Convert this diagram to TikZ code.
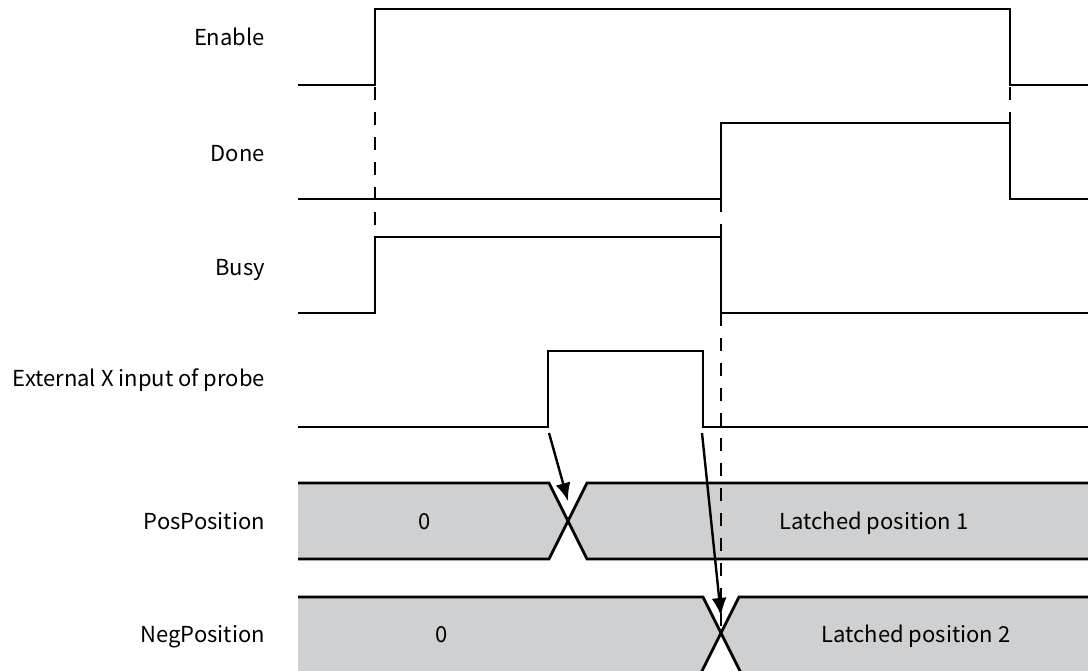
\documentclass[tikz,border=0pt]{standalone}
\usepackage{fontspec}
\setmainfont{Noto Sans CJK SC}
\usetikzlibrary{arrows.meta}
\definecolor{busgray}{HTML}{CFD0D2}
\tikzset{
  sig/.style={line width=2.6pt, line join=miter},
  busline/.style={line width=2.8pt},
  guide/.style={line width=2pt, dash pattern=on 13pt off 12pt},
  lbl/.style={anchor=base east, inner sep=0pt, font=\fontsize{22}{26}\selectfont},
  bustxt/.style={anchor=base, inner sep=0pt, font=\fontsize{22}{26}\selectfont},
  cause/.style={line width=2.4pt, -{Latex[length=18pt,width=15pt]}}
}
\begin{document}
\begin{tikzpicture}[x=1pt,y=-1pt]
\useasboundingbox (0,0) rectangle (1088,671);
\clip (0,0) rectangle (1088,671);
% labels
\node[lbl] (lEnable) at (265,46) {Enable};
\node[lbl] (lDone) at (265,162) {Done};
\node[lbl] (lBusy) at (265,276) {Busy};
\node[lbl] (lExt) at (265,386) {External X input of probe};
\node[lbl] (lPos) at (265,529) {PosPosition};
\node[lbl] (lNeg) at (265,642) {NegPosition};
% buses (fills)
\fill[busgray] (298,483) -- (549,483) -- (568,521) -- (549,559) -- (298,559) -- cycle;
\fill[busgray] (1090,483) -- (587,483) -- (568,521) -- (587,559) -- (1090,559) -- cycle;
\fill[busgray] (298,597) -- (703,597) -- (721,633) -- (703,669) -- (703,680) -- (298,680) -- cycle;
\fill[busgray] (1090,597) -- (739,597) -- (721,633) -- (739,669) -- (739,680) -- (1090,680) -- cycle;
% guides
\draw[guide] (375,87) -- (375,237);
\draw[guide] (1010,87) -- (1010,123);
\draw[guide] (721,199) -- (721,237);
\draw[guide] (721,313) -- (721,633);
% signals
\draw[sig] (298,85) -- (375,85) -- (375,9) -- (1010,9) -- (1010,85) -- (1090,85);
\draw[sig] (298,199) -- (721,199) -- (721,123) -- (1010,123) -- (1010,199) -- (1090,199);
\draw[sig] (298,313) -- (375,313) -- (375,237) -- (721,237) -- (721,313) -- (1090,313);
\draw[sig] (298,427) -- (548,427) -- (548,351) -- (703,351) -- (703,427) -- (1090,427);
% bus outlines
\draw[busline] (298,483) -- (549,483) -- (587,559) -- (1090,559);
\draw[busline] (298,559) -- (549,559) -- (587,483) -- (1090,483);
\draw[busline] (298,597) -- (703,597) -- (740,671) -- (745,681);
\draw[busline] (1090,597) -- (739,597) -- (702,671) -- (697,681);
% bus texts
\node[bustxt] (pos0) at (425,529) {0};
\node[bustxt] (pos1) at (874,529) {Latched position 1};
\node[bustxt] (neg0) at (442,642) {0};
\node[bustxt] (neg2) at (916,642) {Latched position 2};
% causal arrows
\coordinate (a1s) at (549,433);
\coordinate (a1e) at (568,501);
\coordinate (a2s) at (702,433);
\coordinate (a2e) at (721,616);
\draw[cause] (a1s) -- (a1e);
\draw[cause] (a2s) -- (a2e);
\end{tikzpicture}
\end{document}
